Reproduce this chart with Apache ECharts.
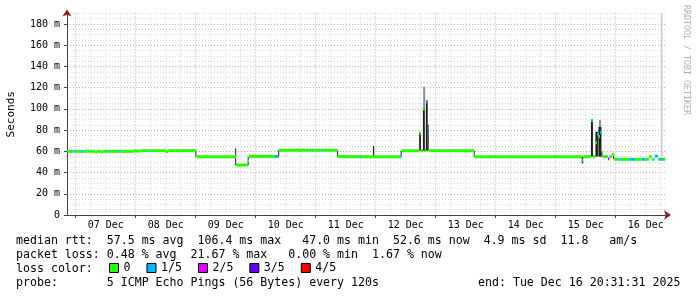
<!DOCTYPE html>
<html><head><meta charset="utf-8">
<script src="https://cdn.jsdelivr.net/npm/echarts@6/dist/echarts.min.js"></script>
<style>html,body{margin:0;padding:0;background:#fff}#c{width:697px;height:297px}</style>
</head><body><div id="c"></div>
<script>
const MONO = '"DejaVu Sans Mono", monospace';

// x axis: hours relative to 07 Dec 00:00; window ends Tue Dec 16 20:31:31
const axisStart = -3.4747;
const axisEnd = 236.5253;
const dayLabels = ['07 Dec','08 Dec','09 Dec','10 Dec','11 Dec','12 Dec','13 Dec','14 Dec','15 Dec','16 Dec'];
const dayLabelHours = [12,36,60,84,108,132,156,180,204,228];
const midnightHours = [0,24,48,72,96,120,144,168,192,216];
const yTicks = [0,20,40,60,80,100,120,140,160,180];
const yMax = 190;

const lossNames = ['0','1/5','2/5','3/5','4/5'];
const lossColors = ['#26ff00','#00b8ff','#dd00ff','#5e00ff','#ff0000'];

// median rtt (ms) segments: start hour, value, loss level
const medStart = [-3.47,-1.2,-0.8,-0.4,0.0,1.9,2.7,4.7,5.1,8.0,8.6,10.4,11.0,13.5,14.0,17.5,18.0,23.0,26.0,29.5,30.0,36.0,37.0,40.0,47.9,48.3,64.1,68.9,69.3,79.7,81.2,94.5,94.9,98.0,98.4,104.8,113.7,114.1,129.9,130.3,137.5,138.1,139.0,139.6,140.2,140.8,141.2,159.3,202.5,203.0,206.1,206.9,207.9,208.5,209.1,209.7,210.3,210.7,212.9,213.5,214.6,215.4,217.5,218.4,221.7,223.7,226.4,227.7,229.3,230.4,231.1,231.6,232.9,233.7,234.9];
const medValue = [60.0,60.0,60.0,60.0,60.0,60.0,60.0,60.5,60.0,59.3,60.0,59.3,60.0,60.0,60.0,60.0,60.0,60.3,60.6,60.6,60.6,59.8,60.6,60.6,60.6,55.0,47.1,51.0,55.2,55.2,61.0,61.0,61.0,61.0,61.0,55.0,55.0,55.0,55.0,60.5,77.0,60.5,100.0,60.5,106.4,82.0,60.5,55.0,51.5,55.0,89.0,55.0,68.0,76.0,74.0,78.0,60.0,55.0,53.0,55.0,57.0,52.5,52.5,52.5,52.5,52.5,52.5,52.5,55.0,52.5,52.5,55.5,52.5,52.5,52.5];
const medLoss = [0,1,0,1,0,1,0,1,0,0,0,0,0,1,0,1,0,0,0,1,0,0,0,0,0,0,0,0,0,1,0,1,0,1,0,0,1,0,1,0,0,0,0,0,1,1,0,0,0,0,1,0,0,1,0,1,0,0,2,0,0,0,1,0,1,0,1,0,0,0,1,1,0,1,0];
const medEnd = 235.9;

// smoke (ping spread): start hour, end hour, low ms, high ms, shade (0 dark, 1 gray, 2 light)
const smokeStart = [139.0,209.3,234.3,47.9,63.8,68.8,81.0,104.6,118.9,130.0,137.4,138.9,140.1,140.8,159.2,202.4,206.1,207.9,209.1,210.3,215.0];
const smokeEnd   = [139.8,210.1,234.6,48.3,64.2,69.2,81.3,104.9,119.4,130.3,138.1,139.6,140.8,141.1,159.5,203.0,206.9,208.9,210.3,210.6,215.4];
const smokeLow   = [60.5,60.0,55.0,55.0,47.0,47.0,55.0,55.0,55.0,55.0,60.5,60.5,60.5,60.5,55.0,48.7,55.0,55.0,55.0,55.0,52.5];
const smokeHigh  = [121.0,89.5,190.0,60.6,63.0,55.0,61.0,61.0,65.0,60.5,78.0,101.0,108.0,85.0,60.5,55.0,89.5,78.5,83.0,60.0,57.0];
const smokeShade = [1,1,2,0,0,0,0,0,0,0,0,0,0,0,0,0,0,0,0,0,0];
const shadeColors = ['#1e1e1e','#8c8c8c','#b4b4b4'];

const statLine1 = 'median rtt:  57.5 ms avg  106.4 ms max   47.0 ms min  52.6 ms now  4.9 ms sd  11.8   am/s';
const statLine2 = 'packet loss: 0.48 % avg  21.67 % max   0.00 % min  1.67 % now';
const lossLabel = 'loss color:';
const probeLine = 'probe:       5 ICMP Echo Pings (56 Bytes) every 120s';
const endLine = 'end: Tue Dec 16 20:31:31 2025';

const minorX = [];
for (let h = 6; h < axisEnd; h += 6) if (h % 24 !== 0) minorX.push(h);

const medSegs = medStart.map((s, i) => [s, i + 1 < medStart.length ? medStart[i + 1] : medEnd, medValue[i], medLoss[i]]);
const smokeData = smokeStart.map((s, i) => [s, smokeEnd[i], smokeLow[i], smokeHigh[i], smokeShade[i]]);

function medRender(color) {
  return function (params, api) {
    const p1 = api.coord([api.value(0), api.value(2)]);
    const p2 = api.coord([api.value(1), api.value(2)]);
    return { type: 'rect', shape: { x: p1[0], y: p1[1] - 1.5, width: Math.max(p2[0] - p1[0], 1), height: 3 }, style: { fill: color } };
  };
}
function smokeRender(params, api) {
  const p1 = api.coord([api.value(0), api.value(3)]);
  const p2 = api.coord([api.value(1), api.value(2)]);
  return { type: 'rect', shape: { x: p1[0], y: p1[1], width: Math.max(p2[0] - p1[0], 1), height: p2[1] - p1[1] }, style: { fill: shadeColors[api.value(4)] } };
}

const series = [{
  type: 'custom', name: 'smoke', renderItem: smokeRender, data: smokeData,
  encode: { x: [0, 1], y: [2, 3] }, xAxisIndex: 0, yAxisIndex: 0, z: 2, silent: true
}];
lossNames.forEach((n, k) => {
  series.push({
    type: 'custom', name: n, renderItem: medRender(lossColors[k]),
    itemStyle: { color: lossColors[k] },
    data: medSegs.filter(d => d[3] === k),
    encode: { x: [0, 1], y: 2 }, xAxisIndex: 0, yAxisIndex: 0, z: 3, silent: true
  });
});

const chart = echarts.init(document.getElementById('c'), null, { renderer: 'canvas' });
chart.setOption({
  animation: false,
  backgroundColor: '#fff',
  grid: { left: 67, top: 13.4, width: 600, height: 201.6, containLabel: false, outerBoundsMode: 'none' },
  legend: {
    data: lossNames.map(n => ({ name: n, icon: 'rect' })),
    left: 109, top: 262, itemWidth: 9, itemHeight: 9, itemGap: 16, padding: 0,
    selectedMode: false,
    textStyle: { fontFamily: MONO, fontSize: 11.6, color: '#000' },
    itemStyle: { borderColor: '#000', borderWidth: 1 }
  },
  xAxis: [{
    type: 'value', position: 'bottom', offset: 0, min: axisStart, max: axisEnd, z: 1,
    axisLine: { show: true, onZero: false, lineStyle: { color: '#444', width: 1 } },
    axisTick: { show: true, length: 3, customValues: midnightHours, lineStyle: { color: '#444' } },
    axisLabel: { customValues: dayLabelHours, formatter: v => dayLabels[dayLabelHours.indexOf(v)], fontFamily: MONO, fontSize: 10, color: '#000', margin: 5 },
    splitLine: { show: true, lineStyle: { color: '#eaa0a0', type: [1, 2], width: 1 } }
  }, {
    type: 'value', position: 'bottom', offset: 0, min: axisStart, max: axisEnd, z: 0,
    axisLine: { show: false, onZero: false }, axisLabel: { show: false },
    axisTick: { show: false, customValues: minorX },
    splitLine: { show: true, lineStyle: { color: '#d2d2d2', type: [1, 2], width: 1 } }
  }, {
    type: 'value', position: 'bottom', offset: 0, min: axisStart, max: axisEnd, z: 0,
    axisLabel: { show: false }, axisTick: { show: false }, splitLine: { show: false },
    axisLine: { show: true, onZero: false, symbol: ['none', 'arrow'], symbolSize: [7, 7], symbolOffset: [0, 4], lineStyle: { color: '#8b1a1a', width: 1 } }
  }],
  yAxis: [{
    type: 'value', position: 'left', offset: 0, min: 0, max: yMax, z: 1,
    name: 'Seconds', nameLocation: 'middle', nameGap: 50,
    nameTextStyle: { fontFamily: MONO, fontSize: 11, color: '#000' },
    axisLine: { show: true, onZero: false, lineStyle: { color: '#444', width: 1 } },
    axisTick: { show: true, length: 3, customValues: yTicks, lineStyle: { color: '#444' } },
    axisLabel: { customValues: yTicks, formatter: v => v === 0 ? '0' : v + ' m', fontFamily: MONO, fontSize: 10, color: '#000', margin: 7 },
    splitLine: { show: true, lineStyle: { color: '#eaa0a0', type: [1, 2], width: 1 } }
  }, {
    type: 'value', position: 'left', offset: 0, min: 0, max: yMax, interval: 5, z: 0,
    axisLine: { show: false, onZero: false }, axisLabel: { show: false }, axisTick: { show: false },
    splitLine: { show: true, lineStyle: { color: '#d8d8d8', type: [1, 2], width: 1 } }
  }, {
    type: 'value', position: 'left', offset: 0, min: 0, max: yMax, z: 0,
    axisLabel: { show: false }, axisTick: { show: false }, splitLine: { show: false },
    axisLine: { show: true, onZero: false, symbol: ['none', 'arrow'], symbolSize: [7, 7], symbolOffset: [0, 4], lineStyle: { color: '#8b1a1a', width: 1 } }
  }],
  series: series,
  graphic: [
    { type: 'text', x: 16, y: 241, style: { text: statLine1, font: '11.6px ' + MONO, fill: '#000', verticalAlign: 'middle' } },
    { type: 'text', x: 16, y: 255, style: { text: statLine2, font: '11.6px ' + MONO, fill: '#000', verticalAlign: 'middle' } },
    { type: 'text', x: 16, y: 269, style: { text: lossLabel, font: '11.6px ' + MONO, fill: '#000', verticalAlign: 'middle' } },
    { type: 'text', x: 16, y: 283, style: { text: probeLine, font: '11.6px ' + MONO, fill: '#000', verticalAlign: 'middle' } },
    { type: 'text', x: 478, y: 283, style: { text: endLine, font: '11.6px ' + MONO, fill: '#000', verticalAlign: 'middle' } },
    { type: 'text', x: 686, y: 5, rotation: -Math.PI / 2, style: { text: 'RRDTOOL / TOBI OETIKER', font: '8.3px ' + MONO, fill: '#b0b0b0', align: 'left', verticalAlign: 'middle' } }
  ]
});
</script></body></html>
